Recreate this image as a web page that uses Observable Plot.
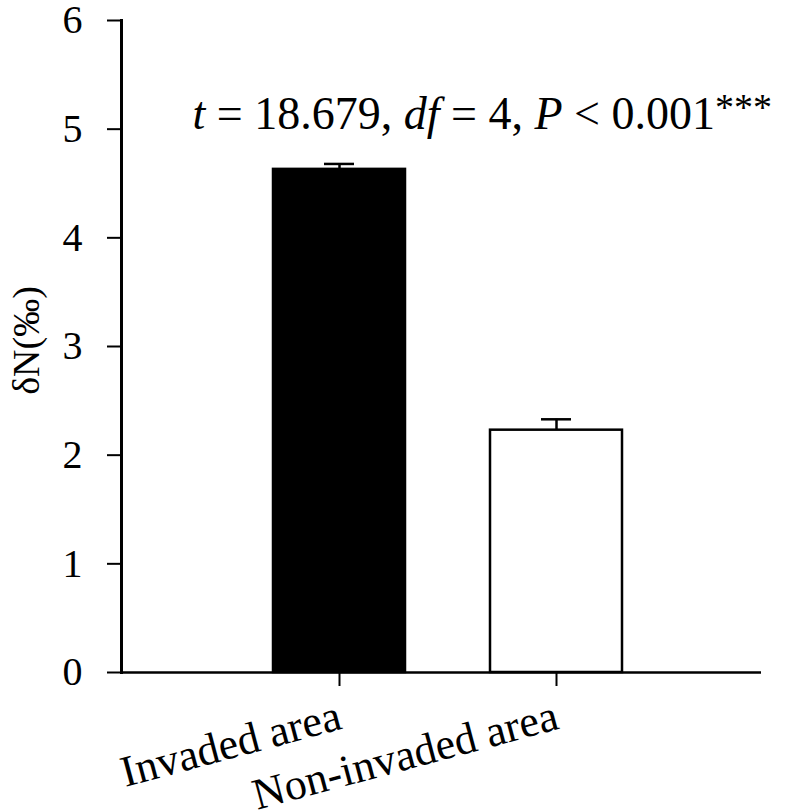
<!DOCTYPE html>
<html><head><meta charset="utf-8">
<script src="https://cdn.jsdelivr.net/npm/d3@7"></script>
<script src="https://cdn.jsdelivr.net/npm/@observablehq/plot@0.6"></script>
<style>
body{margin:0;background:#fff}
svg{font-family:"Liberation Serif","Times New Roman",serif}
</style>
</head><body><div id="chart"></div>
<script>
const categories = ["Invaded area", "Non-invaded area"];
const means = [4.63, 2.23];
const errors = [0.05, 0.10];
const yTicks = [0, 1, 2, 3, 4, 5, 6];
const yLabel = "δN(‰)";
const statParts = [
  {s: "t", italic: true}, {s: " = 18.679, "}, {s: "df", italic: true}, {s: " = 4, "},
  {s: "P", italic: true}, {s: " < 0.001"}, {s: "***", sup: true}
];
const statText = statParts.map(p => p.s).join("");
const statY = 5;

const data = categories.map((c, i) => ({cat: c, mean: means[i], hi: means[i] + errors[i]}));

const chart = Plot.plot({
  width: 800, height: 810,
  marginLeft: 121, marginRight: 39, marginTop: 20, marginBottom: 138,
  style: {fontFamily: "Liberation Serif", background: "white", color: "black"},
  x: {domain: categories, paddingInner: 0.393, paddingOuter: 0.668, align: 0.523, axis: null},
  y: {domain: [0, 6], axis: null},
  color: {domain: categories, range: ["#000000", "#ffffff"]},
  marks: [
    Plot.barY(data, {x: "cat", y: "mean", fill: "cat", stroke: "#000", strokeWidth: 2.5}),
    Plot.ruleX(data, {x: "cat", y1: "mean", y2: "hi", stroke: "#000", strokeWidth: 2.5}),
    Plot.tickY(data, {x: "cat", y: "hi", stroke: "#000", strokeWidth: 2.5, insetLeft: 51, insetRight: 51}),
    Plot.frame({anchor: "left", strokeWidth: 3}),
    Plot.ruleY([0], {strokeWidth: 2.5}),
    Plot.axisY({ticks: yTicks, tickSize: 14, tickPadding: 25, fontSize: 40, strokeWidth: 2, label: null, tickFormat: d => String(d)}),
    Plot.axisX({tickSize: 14, strokeWidth: 2, label: null, tickFormat: () => ""}),
    Plot.text(data, {x: "cat", frameAnchor: "bottom", text: "cat", rotate: -15, textAnchor: "end", lineAnchor: "bottom", dx: 4, dy: 56, fontSize: 44}),
    Plot.text([yLabel], {frameAnchor: "left", text: d => d, rotate: -90, textAnchor: "middle", lineAnchor: "middle", dx: -95, dy: -6, fontSize: 38}),
    Plot.text([{t: statText, y: statY}], {y: "y", text: "t", frameAnchor: "left", textAnchor: "start", lineAnchor: "bottom", dx: 71, fontSize: 46, className: "annot"})
  ]
});

const t = chart.querySelector(".annot text");
if (t) {
  t.textContent = "";
  const ns = "http://www.w3.org/2000/svg";
  statParts.forEach(p => {
    const ts = document.createElementNS(ns, "tspan");
    ts.textContent = p.s;
    if (p.italic) ts.setAttribute("font-style", "italic");
    if (p.sup) { ts.setAttribute("font-size", "38"); ts.setAttribute("dy", "-9"); }
    t.appendChild(ts);
  });
}
document.getElementById("chart").appendChild(chart);
</script>
</body></html>
